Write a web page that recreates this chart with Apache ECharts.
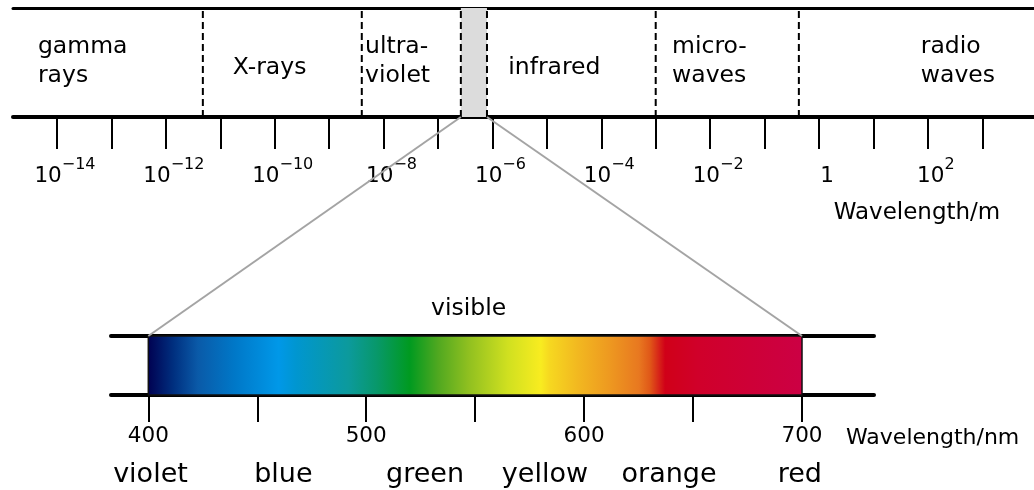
<!DOCTYPE html>
<html>
<head>
<meta charset="utf-8">
<title>Electromagnetic spectrum</title>
<script src="https://cdn.jsdelivr.net/npm/echarts@6.0.0/dist/echarts.min.js"></script>
<style>
  html, body { margin: 0; padding: 0; background: #fff; }
  #chart { width: 1034px; height: 490px; }
</style>
</head>
<body>
<div id="chart"></div>
<script>
// upper scale: wavelength in metres, as log10
const decadeTicks = [-14, -13, -12, -11, -10, -9, -8, -7, -6, -5, -4, -3, -2, -1, 0, 1, 2, 3]
const decadeLabels = [-14, -12, -10, -8, -6, -4, -2, 0, 2]
const bandNames = ['gamma\nrays', 'X-rays', 'ultra-\nviolet', 'infrared', 'micro-\nwaves', 'radio\nwaves']
const bandLabelX = [-14.35, -10.77, -8.34, -5.71, -2.70, 1.87]
const bandLabelY = [0.51, 0.45, 0.51, 0.45, 0.51, 0.51]
const bandEdges = [-11.32, -8.40, -6.58, -6.10, -3.00, -0.37]
const visibleBand = [-6.58, -6.10]
const unitLabelPos = [1.80]

// lower scale: visible light in nm
const nmTicks = [400, 450, 500, 550, 600, 650, 700]
const nmLabels = [400, 500, 600, 700]
const colourNames = ['violet', 'blue', 'green', 'yellow', 'orange', 'red']
const colourPos = [401, 462, 527, 582, 639, 699]
const visibleLabelPos = [547]
const spectrumRange = [400, 700]
const spectrumNm = [400, 412, 423, 440, 460, 468, 492, 505, 520, 533, 547, 565, 580, 584, 597, 611, 625, 630, 637, 652, 700]
const spectrumColours = ['#000050', '#003080', '#0a5aa8', '#0078c8', '#0098e8', '#0096d0', '#0c9a9c', '#08986a', '#009a20', '#50a820',
  '#90c020', '#d0e020', '#f8ec20', '#f6d820', '#f2b820', '#ee9a20', '#e87820', '#e05818', '#d00018', '#d0002a', '#cc0044']

const FONT = 'DejaVu Sans'

function powLabel (v) {
  if (v === 0) return '{b|1}'
  if (v === 1) return '{b|10}'
  return '{b|10}{s|' + (v < 0 ? '\u2212' + (-v) : v) + '}'
}

let chart = echarts.init(document.getElementById('chart'))

let gradStops = spectrumNm.map((nm, i) => ({
  offset: (nm - spectrumRange[0]) / (spectrumRange[1] - spectrumRange[0]),
  color: spectrumColours[i]
}))

let option = {
  animation: false,
  backgroundColor: '#fff',
  textStyle: { fontFamily: FONT, color: '#000' },
  grid: [
    { left: 13, right: 0, top: 8, height: 109, outerBoundsMode: 'none', containLabel: false },
    { left: 111, right: 160, top: 336, height: 59, outerBoundsMode: 'none', containLabel: false },
    { left: 111, right: 160, top: 336, height: 59, outerBoundsMode: 'none', containLabel: false },
    { left: 13, right: 0, top: 8, height: 109, outerBoundsMode: 'none', containLabel: false }
  ],
  xAxis: [
    {
      gridIndex: 0,
      type: 'value',
      min: -14.808,
      max: 3.95,
      position: 'bottom',
      axisLine: { onZero: false, lineStyle: { color: '#000', width: 4 } },
      axisTick: { customValues: decadeTicks, length: 32, lineStyle: { color: '#000', width: 2 } },
      axisLabel: {
        customValues: decadeLabels,
        formatter: powLabel,
        margin: 47,
        padding: [0, 0, 0, 16],
        rich: {
          b: { fontSize: 21.5, lineHeight: 24, color: '#000', fontFamily: FONT },
          s: { fontSize: 16, lineHeight: 18, padding: [0, 0, 23, 0], color: '#000', fontFamily: FONT }
        }
      },
      splitLine: { show: false }
    },
    {
      gridIndex: 0,
      type: 'value',
      min: -14.808,
      max: 3.95,
      position: 'top',
      axisLine: { onZero: false, lineStyle: { color: '#000', width: 3 } },
      axisTick: { show: false },
      axisLabel: { show: false },
      splitLine: { show: false }
    },
    {
      gridIndex: 1,
      type: 'value',
      min: 382.88,
      max: 733.04,
      position: 'bottom',
      axisLine: { onZero: false, lineStyle: { color: '#000', width: 4 } },
      axisTick: { customValues: nmTicks, length: 27, lineStyle: { color: '#000', width: 2 } },
      axisLabel: { customValues: nmLabels, margin: 30, fontSize: 21.5, color: '#000', fontFamily: FONT },
      splitLine: { show: false },
      name: 'Wavelength/nm',
      nameLocation: 'end',
      nameGap: -28,
      nameTextStyle: { verticalAlign: 'top', lineHeight: 86, fontSize: 22, color: '#000', fontFamily: FONT }
    },
    {
      gridIndex: 1,
      type: 'value',
      min: 382.88,
      max: 733.04,
      position: 'top',
      axisLine: { onZero: false, lineStyle: { color: '#000', width: 4 } },
      axisTick: { show: false },
      axisLabel: {
        customValues: visibleLabelPos,
        formatter: () => 'visible',
        margin: 15,
        fontSize: 23.5,
        color: '#000',
        fontFamily: FONT
      },
      splitLine: { show: false }
    },
    {
      gridIndex: 2,
      type: 'value',
      min: 382.88,
      max: 733.04,
      position: 'bottom',
      axisLine: { show: false, onZero: false },
      axisTick: { show: false },
      axisLabel: {
        customValues: colourPos,
        formatter: (v) => colourNames[colourPos.indexOf(v)],
        margin: 66,
        fontSize: 27,
        color: '#000',
        fontFamily: FONT
      },
      splitLine: { show: false }
    },
    {
      gridIndex: 3,
      type: 'value',
      min: -14.808,
      max: 3.95,
      position: 'bottom',
      axisLine: { show: false, onZero: false },
      axisTick: { show: false },
      axisLabel: {
        customValues: unitLabelPos,
        formatter: () => 'Wavelength/m',
        margin: 85,
        fontSize: 23,
        color: '#000',
        fontFamily: FONT
      },
      splitLine: { show: false }
    }
  ],
  yAxis: [
    { gridIndex: 0, type: 'value', min: 0, max: 1, show: false },
    { gridIndex: 1, type: 'value', min: 0, max: 1, show: false },
    { gridIndex: 2, type: 'value', min: 0, max: 1, show: false },
    { gridIndex: 3, type: 'value', min: 0, max: 1, show: false }
  ],
  series: [
    { // shaded visible slot
      type: 'custom',
      xAxisIndex: 0,
      yAxisIndex: 0,
      clip: false,
      z: 1,
      data: [visibleBand],
      renderItem: (params, api) => {
        let a = api.coord([api.value(0), 1])
        let b = api.coord([api.value(1), 0])
        return { type: 'rect', shape: { x: a[0], y: a[1], width: b[0] - a[0], height: b[1] - a[1] }, style: { fill: '#dcdcdc' } }
      }
    },
    { // dashed band borders
      type: 'custom',
      xAxisIndex: 0,
      yAxisIndex: 0,
      clip: false,
      z: 2,
      data: bandEdges.map(v => [v, 0]),
      renderItem: (params, api) => {
        let a = api.coord([api.value(0), 0])
        let b = api.coord([api.value(0), 1])
        return {
          type: 'line',
          shape: { x1: a[0], y1: a[1], x2: b[0], y2: b[1] },
          style: { stroke: '#000', lineWidth: 2, lineDash: [7, 4] }
        }
      }
    },
    { // band names
      type: 'custom',
      xAxisIndex: 0,
      yAxisIndex: 0,
      clip: false,
      z: 3,
      data: bandLabelX.map((x, i) => [x, bandLabelY[i]]),
      renderItem: (params, api) => {
        let p = api.coord([api.value(0), api.value(1)])
        return {
          type: 'text',
          x: p[0],
          y: p[1],
          style: {
            text: bandNames[params.dataIndex],
            fill: '#000',
            font: '23.5px "DejaVu Sans"',
            lineHeight: 29,
            align: 'left',
            verticalAlign: 'middle'
          }
        }
      }
    },
    { // spectrum bar
      type: 'custom',
      xAxisIndex: 2,
      yAxisIndex: 1,
      clip: false,
      z: 1,
      data: [spectrumRange],
      renderItem: (params, api) => {
        let a = api.coord([api.value(0), 1])
        let b = api.coord([api.value(1), 0])
        return {
          type: 'rect',
          shape: { x: a[0], y: a[1], width: b[0] - a[0], height: b[1] - a[1] },
          style: {
            fill: new echarts.graphic.LinearGradient(0, 0, 1, 0, gradStops),
            stroke: '#111',
            lineWidth: 1.5
          }
        }
      }
    }
  ]
}

chart.setOption(option)

// grey zoom lines from the visible slot down to the spectrum bar
let p1 = chart.convertToPixel({ gridIndex: 0 }, [visibleBand[0], 0])
let p2 = chart.convertToPixel({ gridIndex: 1 }, [spectrumRange[0], 1])
let p3 = chart.convertToPixel({ gridIndex: 0 }, [visibleBand[1], 0])
let p4 = chart.convertToPixel({ gridIndex: 1 }, [spectrumRange[1], 1])
chart.setOption({
  graphic: [
    { type: 'line', silent: true, z: 5, shape: { x1: p1[0], y1: p1[1], x2: p2[0], y2: p2[1] }, style: { stroke: '#a4a4a4', lineWidth: 2 } },
    { type: 'line', silent: true, z: 5, shape: { x1: p3[0], y1: p3[1], x2: p4[0], y2: p4[1] }, style: { stroke: '#a4a4a4', lineWidth: 2 } }
  ]
})
</script>
</body>
</html>
